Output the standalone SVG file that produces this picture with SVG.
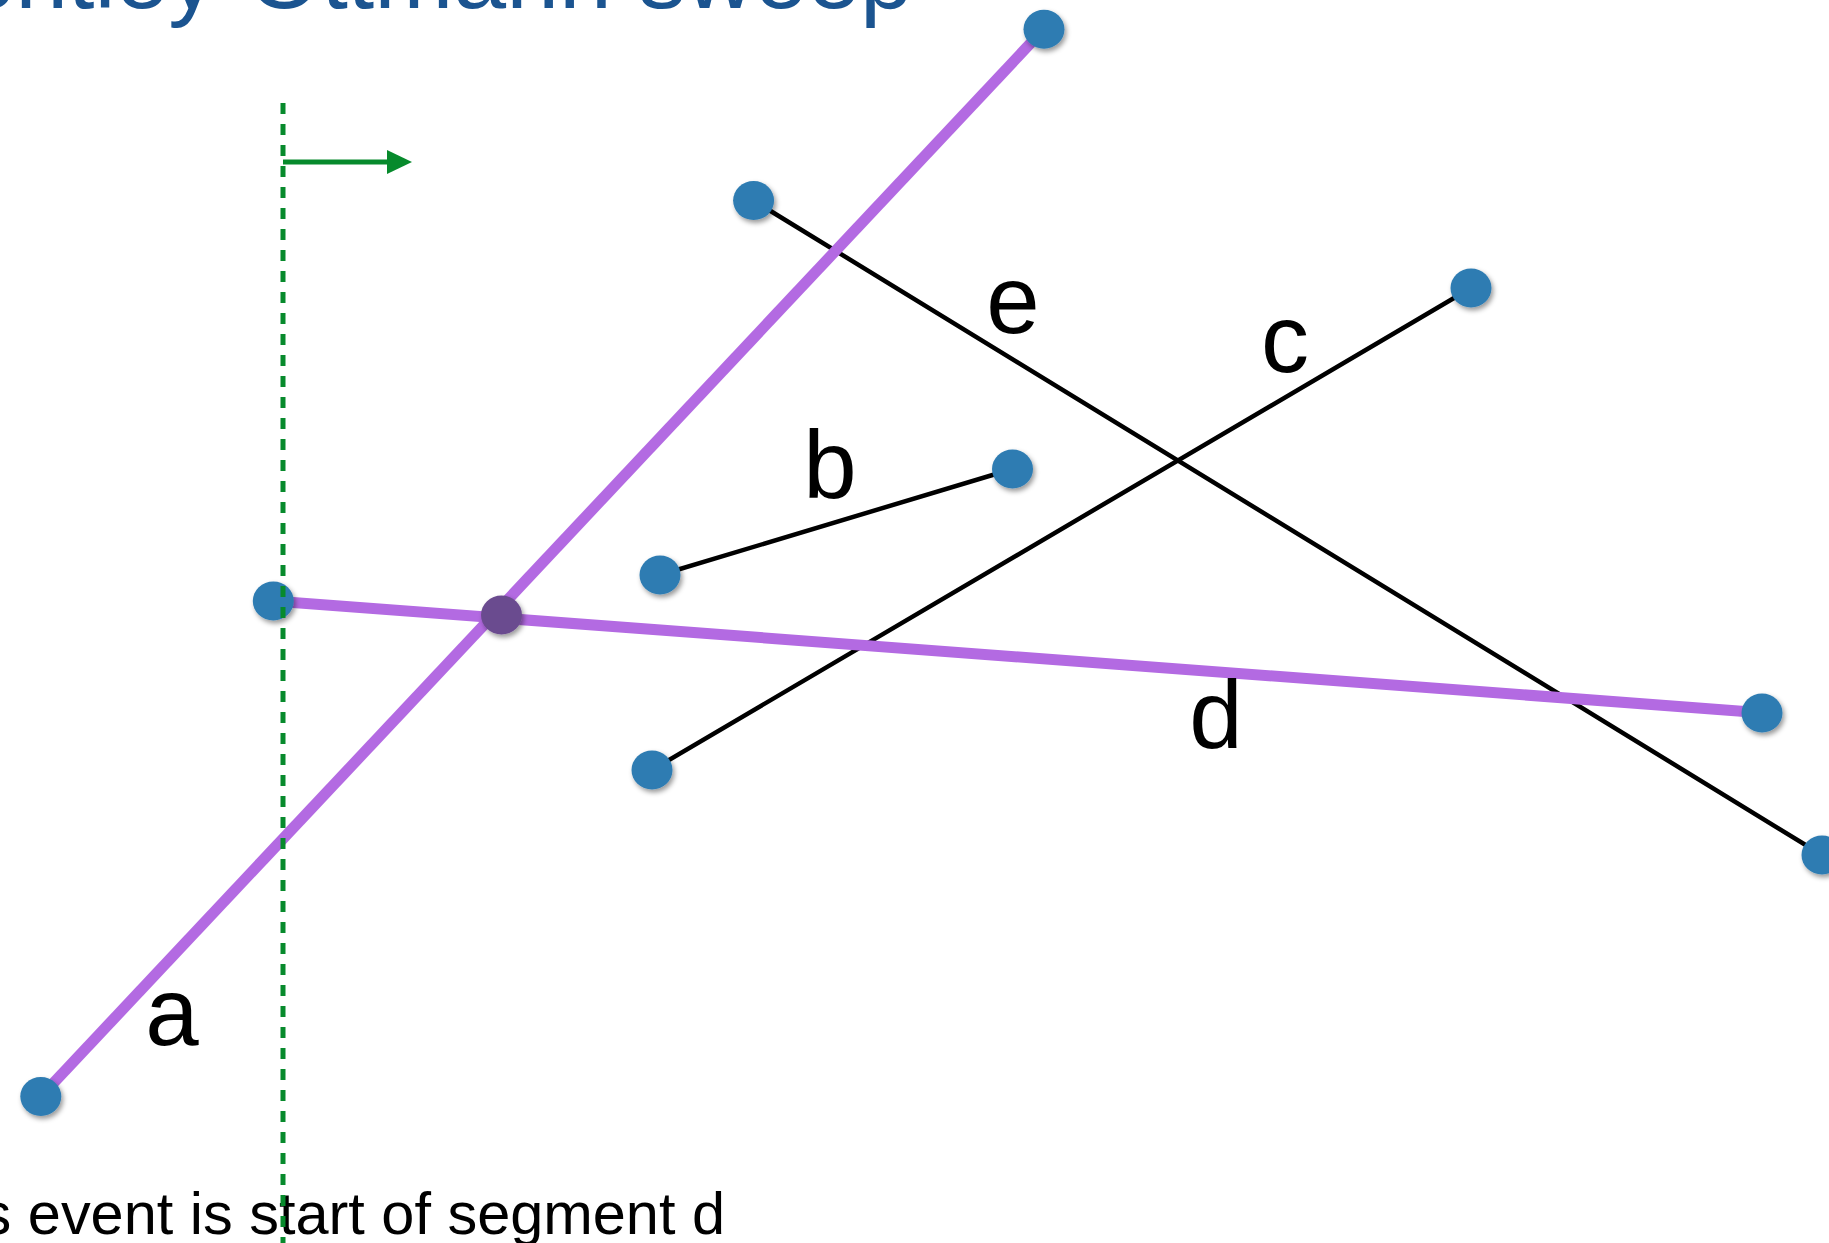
<svg xmlns="http://www.w3.org/2000/svg" width="1829" height="1243" viewBox="0 0 1829 1243">
  <style>
    .seg { stroke: #000; stroke-width: 4.5; fill: none; stroke-linecap: round; }
    .hl { stroke: #b36ae2; stroke-width: 11; fill: none; stroke-linecap: butt; }
    .pt { fill: #2e7cb2; filter: url(#sh); }
    .ix { fill: #6b4b8f; filter: url(#sh); }
    .lbl { font-family: "Liberation Sans", Arial, sans-serif; font-size: 96px; fill: #000; text-anchor: middle; }
    .title { font-family: "Liberation Sans", Arial, sans-serif; font-size: 95px; fill: #1b5490; }
    .note { font-family: "Liberation Sans", Arial, sans-serif; font-size: 59px; fill: #000; }
    .sweep { stroke: #078a2c; stroke-width: 5; fill: none; }
  </style>
  <defs>
    <filter id="sh" x="-50%" y="-50%" width="200%" height="200%">
      <feDropShadow dx="2" dy="3" stdDeviation="2.5" flood-color="#000" flood-opacity="0.4"/>
    </filter>
  </defs>
  <rect width="1829" height="1243" fill="#fff"/>

  <text class="title" x="-101" y="8">Bentley-Ottmann sweep</text>

  <g id="connectors">
    <line id="seg-e" class="seg" x1="753.6" y1="200.6" x2="1822" y2="855"/>
    <line id="seg-c" class="seg" x1="1471" y1="288" x2="652" y2="770"/>
    <line id="seg-b" class="seg" x1="660" y1="575" x2="1012.5" y2="469"/>
    <line id="seg-a" class="hl" x1="40.8" y1="1096.5" x2="1044" y2="29"/>
    <line id="seg-d" class="hl" x1="273" y1="601" x2="1761.4" y2="712.7"/>
  </g>

  <g id="node-a1"><ellipse class="pt" cx="40.8" cy="1096.5" rx="20.5" ry="19.5"/></g>
  <g id="node-a2"><ellipse class="pt" cx="1044" cy="29.3" rx="20.5" ry="19.5"/></g>
  <g id="node-e1"><ellipse class="pt" cx="753.6" cy="200.6" rx="20.5" ry="19.5"/></g>
  <g id="node-e2"><ellipse class="pt" cx="1822" cy="855" rx="20.5" ry="19.5"/></g>
  <g id="node-c1"><ellipse class="pt" cx="1471" cy="288" rx="20.5" ry="19.5"/></g>
  <g id="node-c2"><ellipse class="pt" cx="652" cy="770" rx="20.5" ry="19.5"/></g>
  <g id="node-b1"><ellipse class="pt" cx="660" cy="575" rx="20.5" ry="19.5"/></g>
  <g id="node-b2"><ellipse class="pt" cx="1012.5" cy="469" rx="20.5" ry="19.5"/></g>
  <g id="node-d1"><ellipse class="pt" cx="273.3" cy="601" rx="20.5" ry="19.5"/></g>
  <g id="node-d2"><ellipse class="pt" cx="1762" cy="713" rx="20.5" ry="19.5"/></g>
  <g id="node-ad"><ellipse class="ix" cx="501.5" cy="615" rx="20.5" ry="19.5"/></g>

  <g id="labels">
    <text class="lbl" x="1013" y="333">e</text>
    <text class="lbl" x="1285" y="372">c</text>
    <text class="lbl" x="830" y="498">b</text>
    <text class="lbl" x="1216" y="748">d</text>
    <text class="lbl" x="172" y="1045">a</text>
  </g>

  <text class="note" x="-101" y="1234" textLength="826" lengthAdjust="spacingAndGlyphs">This event is start of segment d</text>

  <g id="sweep-line">
    <line class="sweep" x1="283" y1="103" x2="283" y2="1243" stroke-dasharray="11 10"/>
    <line class="sweep" x1="283" y1="162" x2="390" y2="162"/>
    <polygon points="387,150 412,162 387,174" fill="#078a2c"/>
  </g>
</svg>
